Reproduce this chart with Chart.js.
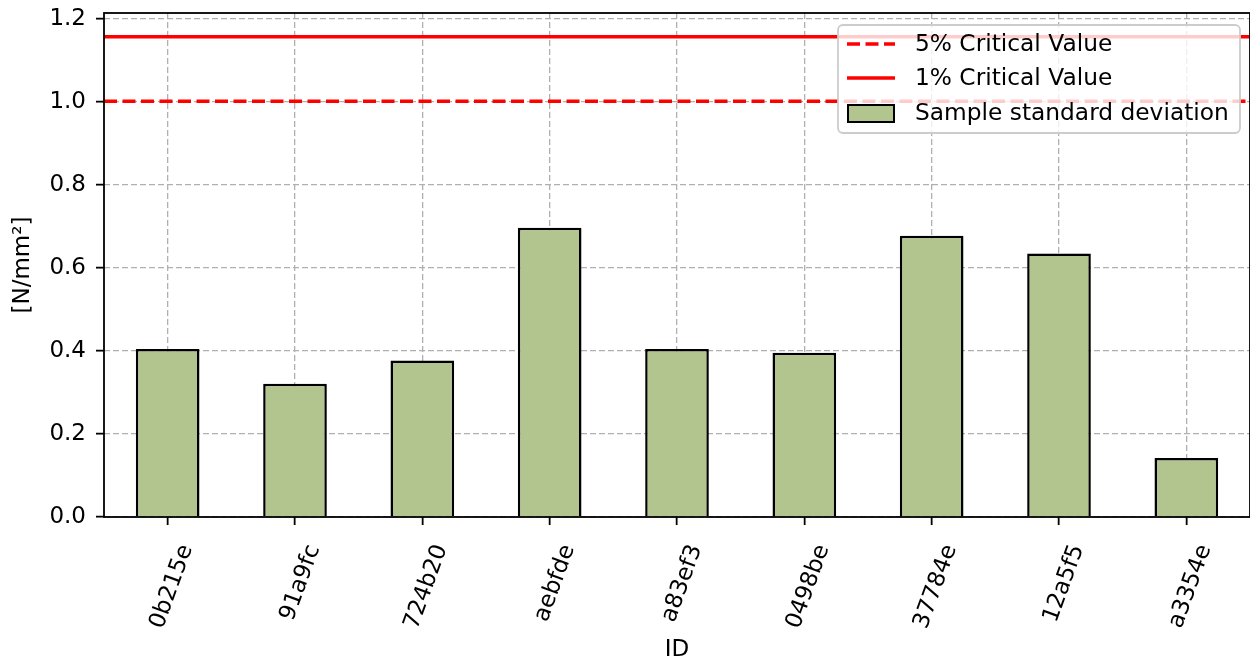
<!doctype html>
<html>
<head>
<title>Sample standard deviation</title>
<script src="https://cdn.jsdelivr.net/npm/chart.js@4.4.0/dist/chart.umd.min.js"></script>
<style>
body { margin: 0; background: #fff; }
#wrap { width: 1250px; height: 659px; }
</style>
</head>
<body>
<div id="wrap"><canvas id="myChart"></canvas></div>
<script>
// data
var ids = ["0b215e", "91a9fc", "724b20", "aebfde", "a83ef3", "0498be", "37784e", "12a5f5", "a3354e"];
var stdDev = [0.405, 0.321, 0.377, 0.697, 0.405, 0.396, 0.678, 0.635, 0.142];
var crit5 = 1.002;
var crit1 = 1.157;
var yTicks = [0, 0.2, 0.4, 0.6, 0.8, 1.0, 1.2];
var yMax = 1.2145;

var FONT = "'DejaVu Sans', sans-serif";
var barFill = '#b3c58e';

// horizontal critical value lines, drawn at the y scale's pixel
var critLines = {
    id: 'critLines',
    afterDatasetsDraw: function(chart) {
        var ctx = chart.ctx, a = chart.chartArea, y = chart.scales.y;
        ctx.save();
        ctx.beginPath();
        ctx.rect(a.left, a.top, a.right - a.left, a.bottom - a.top);
        ctx.clip();
        ctx.strokeStyle = '#ff0000';
        ctx.lineWidth = 3.5;
        ctx.setLineDash([13, 5.5]);
        var p = y.getPixelForValue(crit5);
        ctx.beginPath(); ctx.moveTo(a.left, p); ctx.lineTo(a.right, p); ctx.stroke();
        ctx.setLineDash([]);
        p = y.getPixelForValue(crit1);
        ctx.beginPath(); ctx.moveTo(a.left, p); ctx.lineTo(a.right, p); ctx.stroke();
        ctx.restore();
    }
};

// frame + legend inside the plot (top right)
var frameLegend = {
    id: 'frameLegend',
    afterDraw: function(chart) {
        var ctx = chart.ctx, a = chart.chartArea;
        ctx.save();
        ctx.strokeStyle = '#000';
        ctx.lineWidth = 1.8;
        ctx.strokeRect(a.left, a.top, a.right - a.left, a.bottom - a.top);

        // legend box
        var x0 = 838, y0 = 25, w = 402, h = 108, r = 5;
        ctx.globalAlpha = 0.8;
        ctx.fillStyle = '#fff';
        ctx.beginPath();
        ctx.roundRect(x0, y0, w, h, r);
        ctx.fill();
        ctx.globalAlpha = 1;
        ctx.strokeStyle = '#cccccc';
        ctx.lineWidth = 1.8;
        ctx.stroke();

        var rows = [44, 78, 113];
        ctx.font = '23.3px ' + FONT;
        ctx.fillStyle = '#000';
        ctx.textBaseline = 'middle';
        ctx.textAlign = 'left';

        ctx.strokeStyle = '#ff0000';
        ctx.lineWidth = 3.5;
        ctx.setLineDash([13, 5.5]);
        ctx.beginPath(); ctx.moveTo(847, rows[0]); ctx.lineTo(895, rows[0]); ctx.stroke();
        ctx.setLineDash([]);
        ctx.beginPath(); ctx.moveTo(847, rows[1]); ctx.lineTo(895, rows[1]); ctx.stroke();

        ctx.fillStyle = barFill;
        ctx.fillRect(848, rows[2] - 8, 46, 17);
        ctx.strokeStyle = '#000';
        ctx.lineWidth = 2;
        ctx.strokeRect(848, rows[2] - 8, 46, 17);

        ctx.fillStyle = '#000';
        ctx.fillText('5% Critical Value', 915, rows[0] + 1);
        ctx.fillText('1% Critical Value', 915, rows[1] + 1);
        ctx.fillText('Sample standard deviation', 915, rows[2] + 1);
        ctx.restore();
    }
};

function drawGraph() {
    var ctx = document.getElementById('myChart').getContext('2d');
    var chart = new Chart(ctx, {
        type: 'bar',
        data: {
            labels: ids,
            datasets: [{
                label: 'Sample standard deviation',
                data: stdDev,
                backgroundColor: barFill,
                borderColor: '#000',
                borderWidth: 2.5,
                barPercentage: 0.5,
                categoryPercentage: 1.0
            }]
        },
        options: {
            responsive: true,
            maintainAspectRatio: false,
            animation: false,
            layout: { padding: { top: 13, right: 0, bottom: 0, left: 0 } },
            plugins: {
                legend: { display: false },
                tooltip: { enabled: false }
            },
            scales: {
                x: {
                    z: 1,
                    grid: {
                        offset: false,
                        color: '#b0b0b0',
                        lineWidth: 1.3,
                        tickColor: '#000',
                        tickLength: 8,
                        tickWidth: 1.8,
                        tickBorderDash: []
                    },
                    border: { display: false, dash: [6, 3] },
                    ticks: {
                        color: '#000',
                        font: { family: FONT, size: 23 },
                        minRotation: 70,
                        maxRotation: 70,
                        autoSkip: false,
                        padding: 16,
                        labelOffset: 19
                    },
                    title: {
                        display: true,
                        text: 'ID',
                        color: '#000',
                        font: { family: FONT, size: 23, lineHeight: 1.0 },
                        padding: { top: -3, bottom: -3 }
                    },
                    afterFit: function(s) {
                        s.height = 142;
                        s.paddingLeft = 0;
                        s.paddingRight = 0;
                    }
                },
                y: {
                    z: 1,
                    min: 0,
                    max: yMax,
                    grid: {
                        color: '#b0b0b0',
                        lineWidth: 1.3,
                        tickColor: '#000',
                        tickLength: 8,
                        tickWidth: 1.8,
                        tickBorderDash: []
                    },
                    border: { display: false, dash: [6, 3] },
                    afterBuildTicks: function(s) {
                        s.ticks = yTicks.map(function(v) { return { value: v }; });
                    },
                    ticks: {
                        color: '#000',
                        font: { family: FONT, size: 23 },
                        padding: 10,
                        callback: function(v) { return Number(v).toFixed(1); }
                    },
                    title: {
                        display: true,
                        text: '[N/mm²]',
                        color: '#000',
                        font: { family: FONT, size: 23 },
                        padding: { top: 9, bottom: 0 }
                    },
                    afterFit: function(s) {
                        s.width = 104;
                        s.paddingTop = 0;
                        s.paddingBottom = 0;
                    }
                }
            }
        },
        plugins: [critLines, frameLegend]
    });
}

window.onload = function() {
    drawGraph();
};
</script>
</body>
</html>
